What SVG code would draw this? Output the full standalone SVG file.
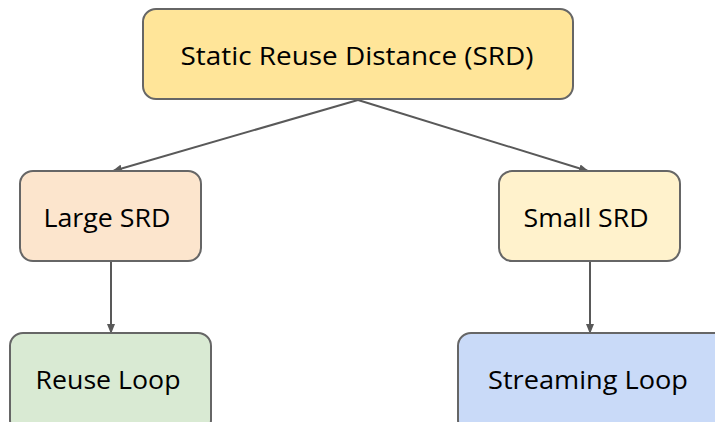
<svg xmlns="http://www.w3.org/2000/svg" width="715" height="422" viewBox="0 0 715 422">
<defs>
<marker id="ah" markerWidth="10" markerHeight="8" refX="9" refY="4" orient="auto" markerUnits="userSpaceOnUse">
<path d="M0,0 L10,4 L0,8 Z" fill="#595959"/>
</marker>
<style>
.box{stroke:#666666;stroke-width:2}
.lbl{font-family:"Open Sans","Noto Sans",sans-serif;font-size:26px;fill:#000;text-anchor:middle}
.conn{stroke:#595959;stroke-width:2;fill:none;marker-end:url(#ah)}
</style>
</defs>
<rect width="715" height="422" fill="#ffffff"/>
<g id="connectors">
<line class="conn" x1="358" y1="100" x2="113" y2="171"/>
<line class="conn" x1="358" y1="100" x2="588" y2="171"/>
<line class="conn" x1="111" y1="262" x2="111" y2="333"/>
<line class="conn" x1="590" y1="262" x2="590" y2="333"/>
</g>
<g id="srd">
<rect class="box" x="143" y="9" width="430" height="90" rx="13" fill="#ffe599"/>
<text class="lbl" x="357" y="65" textLength="353" lengthAdjust="spacingAndGlyphs">Static Reuse Distance (SRD)</text>
</g>
<g id="large">
<rect class="box" x="20" y="171" width="181" height="90" rx="13" fill="#fce5cd"/>
<text class="lbl" x="107" y="227" textLength="127" lengthAdjust="spacingAndGlyphs">Large SRD</text>
</g>
<g id="small">
<rect class="box" x="499" y="171" width="181" height="90" rx="13" fill="#fff2cc"/>
<text class="lbl" x="586" y="227" textLength="125" lengthAdjust="spacingAndGlyphs">Small SRD</text>
</g>
<g id="reuse">
<rect class="box" x="10" y="333" width="201" height="100" rx="13" fill="#d9ead3"/>
<text class="lbl" x="108" y="389" textLength="145" lengthAdjust="spacingAndGlyphs">Reuse Loop</text>
</g>
<g id="streaming">
<rect class="box" x="458" y="333" width="270" height="100" rx="13" fill="#c9daf8"/>
<text class="lbl" x="588" y="389" textLength="200" lengthAdjust="spacingAndGlyphs">Streaming Loop</text>
</g>
</svg>
